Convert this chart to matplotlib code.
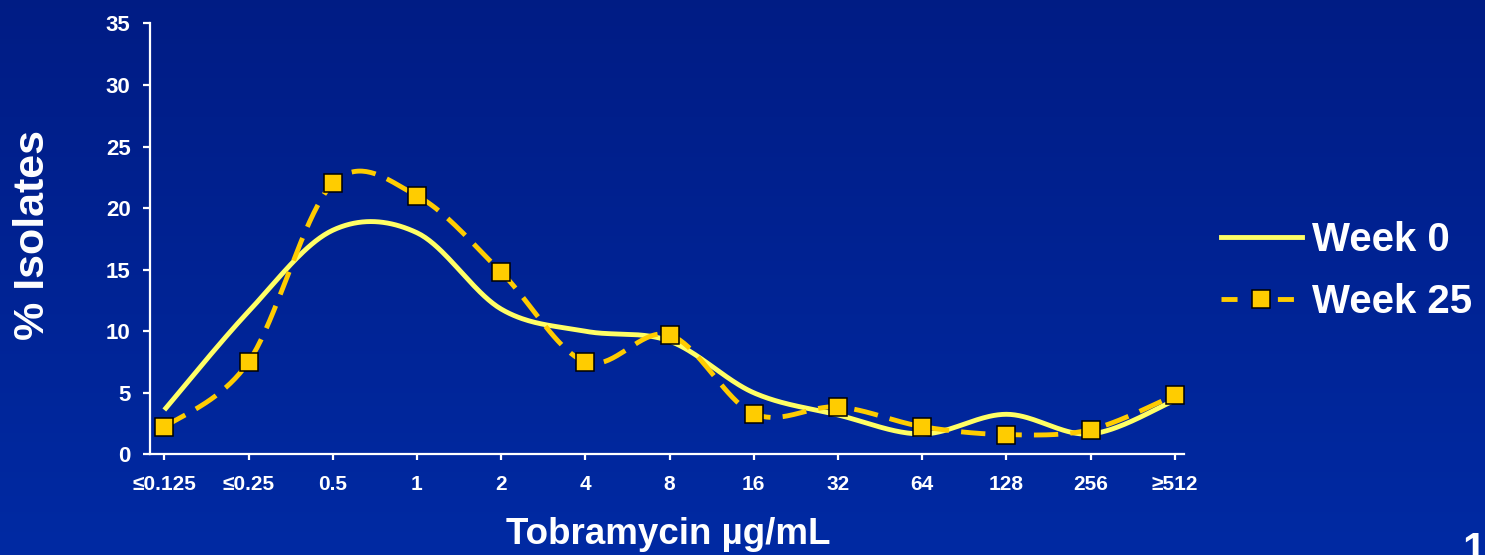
import numpy as np
import matplotlib
matplotlib.use("Agg")
import matplotlib.pyplot as plt
from matplotlib.lines import Line2D

plt.rcParams["font.family"] = ["Liberation Sans", "DejaVu Sans"]
plt.rcParams["font.weight"] = "bold"

# MIC distribution of isolates (% of isolates per tobramycin concentration)
categories = ["≤0.125", "≤0.25", "0.5", "1", "2", "4", "8",
              "16", "32", "64", "128", "256", "≥512"]
week0 = [3.6, 11.6, 18.2, 18.0, 11.8, 10.0, 9.2, 5.0, 3.2, 1.65, 3.25, 1.65, 4.4]
week25 = [2.2, 7.5, 22.0, 21.0, 14.8, 7.5, 9.7, 3.3, 3.85, 2.25, 1.6, 2.0, 4.8]
yticks = [0, 5, 10, 15, 20, 25, 30, 35]


def smooth(xs, ys, n=40):
    """Catmull-Rom style smoothed line through the points (Bezier segments)."""
    pts = np.column_stack([xs, ys]).astype(float)
    out = []
    m = len(pts)
    for i in range(m - 1):
        p0 = pts[max(i - 1, 0)]
        p1 = pts[i]
        p2 = pts[i + 1]
        p3 = pts[min(i + 2, m - 1)]
        c1 = p1 + (p2 - p0) / 6.0
        c2 = p2 - (p3 - p1) / 6.0
        t = np.linspace(0, 1, n, endpoint=(i == m - 2))[:, None]
        seg = ((1 - t) ** 3) * p1 + 3 * ((1 - t) ** 2) * t * c1 \
            + 3 * (1 - t) * t ** 2 * c2 + t ** 3 * p2
        out.append(seg)
    out = np.vstack(out)
    return out[:, 0], out[:, 1]


fig = plt.figure(figsize=(14.85, 5.55), dpi=100)

# blue gradient backdrop
bg = fig.add_axes([0, 0, 1, 1], zorder=-10)
top = np.array([0.0, 0.11, 0.52])
bottom = np.array([0.0, 0.165, 0.64])
g = np.linspace(0, 1, 256)[:, None, None]
grad = top * (1 - g) + bottom * g
grad = np.repeat(grad, 4, axis=1)
bg.imshow(grad, aspect="auto", extent=[0, 1, 0, 1], origin="upper")
bg.set_axis_off()

ax = fig.add_axes([0.10101, 0.18144, 0.6963, 0.7763])
ax.patch.set_alpha(0)

x = np.arange(len(categories))
sx0, sy0 = smooth(x, week0)
sx25, sy25 = smooth(x, week25)

solid_color = "#FFFF66"
dash_color = "#FFCC00"
lw = 3.5

ax.plot(sx0, sy0, color=solid_color, lw=lw, solid_capstyle="butt", zorder=3)
ax.plot(sx25, sy25, color=dash_color, lw=lw, dashes=(5.0, 2.5),
        dash_capstyle="butt", zorder=4)
ax.plot(x, week25, linestyle="none", marker="s", markersize=12.5,
        markerfacecolor=dash_color, markeredgecolor="black",
        markeredgewidth=1.1, zorder=5)

ax.set_xlim(-0.17, 12.11)
ax.set_ylim(0, 35)
ax.set_xticks(x)
ax.set_xticklabels(categories)
ax.set_yticks(yticks)

for s in ["top", "right"]:
    ax.spines[s].set_visible(False)
for s in ["left", "bottom"]:
    ax.spines[s].set_color("white")
    ax.spines[s].set_linewidth(1.6)

ax.tick_params(axis="y", colors="white", length=5, width=1.6, pad=9,
               labelsize=16)
ax.tick_params(axis="x", colors="white", length=4, width=1.6, pad=11,
               labelsize=15)
for lab in ax.get_xticklabels() + ax.get_yticklabels():
    lab.set_fontweight("bold")
    lab.set_color("white")

fig.text(33 / 1485, 1 - 235 / 555, "% Isolates", rotation=90, color="white",
         fontsize=31, fontweight="bold", ha="center", va="center")
fig.text(668 / 1485, 1 - 535 / 555, "Tobramycin µg/mL", color="white",
         fontsize=26.5, fontweight="bold", ha="center", va="center")
fig.text(1462 / 1485, 1 - 531 / 555, "1", color="white",
         fontsize=30, fontweight="bold", ha="left", va="top")

handles = [
    Line2D([], [], color=solid_color, lw=lw),
    Line2D([], [], color=dash_color, lw=lw, dashes=(3.3, 8.3),
           marker="s", markersize=12.5, markerfacecolor=dash_color,
           markeredgecolor="black", markeredgewidth=1.1),
]
leg = ax.legend(handles, ["Week 0", "Week 25"], loc="center left",
                bbox_to_anchor=(1221 / 1485, 1 - 271 / 555),
                bbox_transform=fig.transFigure, frameon=False,
                prop={"size": 29, "weight": "bold"}, handlelength=2.0,
                handletextpad=0.25, labelspacing=0.6, borderpad=0,
                borderaxespad=0)
for t in leg.get_texts():
    t.set_color("white")

fig.savefig("out.png", dpi=100)
